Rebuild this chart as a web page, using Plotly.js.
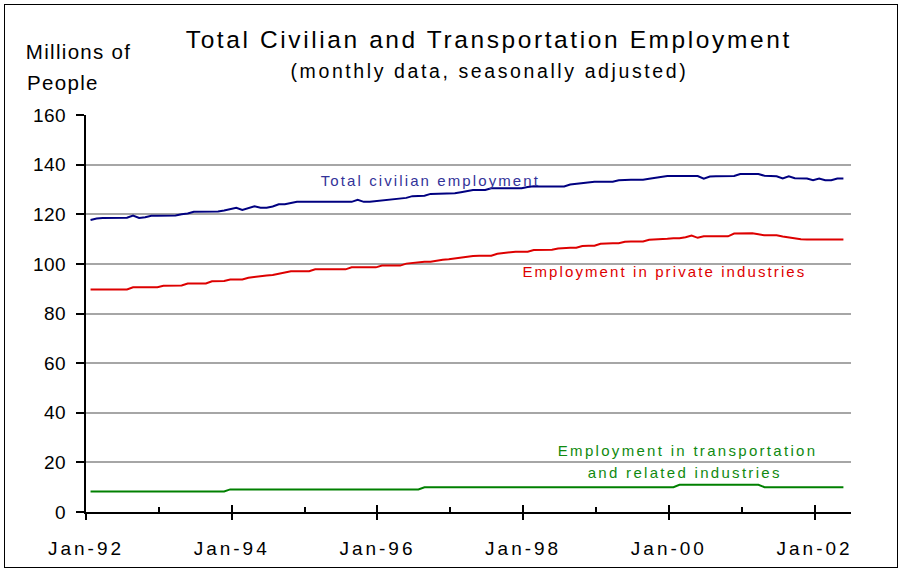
<!DOCTYPE html>
<html>
<head>
<meta charset="utf-8">
<script src="https://cdn.plot.ly/plotly-3.0.1.min.js"></script>
<style>
  html, body { margin: 0; padding: 0; background: #fff; }
  #wrap { position: relative; width: 902px; height: 570px; }
  #chart { width: 902px; height: 570px; }
  #frame { position: absolute; left: 4px; top: 4px; width: 894px; height: 564px;
           box-sizing: border-box; border: 1px solid #000; pointer-events: none; }
</style>
</head>
<body>
<div id="wrap"><div id="chart"></div><div id="frame"></div></div>
<script>
// Monthly series, Jan-1992 through May-2002 (millions of people, seasonally adjusted)
const totalCivilian = [
  117.7,118.3,118.5,118.5,118.5,118.5,118.6,119.5,118.5,118.8,119.4,119.4, // 1992
  119.4,119.4,119.5,120.0,120.3,121.0,121.0,121.0,121.1,121.1,121.5,121.9, // 1993
  122.6,121.7,122.4,123.2,122.6,122.6,123.1,124.0,124.0,124.5,125.0,125.0, // 1994
  125.0,125.0,125.0,125.0,125.0,125.0,125.0,125.0,125.8,125.0,125.0,125.3, // 1995
  125.7,125.8,126.3,126.5,126.6,127.3,127.4,127.5,128.2,128.2,128.2,128.2, // 1996
  128.5,128.9,129.3,129.8,129.8,129.8,130.5,130.5,130.5,130.5,130.5,130.5, // 1997
  131.0,131.3,131.2,131.2,131.2,131.2,131.2,132.0,132.3,132.3,132.8,133.1, // 1998
  133.1,133.1,133.1,133.7,133.9,133.9,133.9,133.9,134.3,134.6,135.2,135.4, // 1999
  135.4,135.4,135.4,135.4,135.4,134.3,135.2,135.3,135.3,135.3,135.4,136.2, // 2000
  136.3,136.3,136.2,135.5,135.4,135.3,134.4,135.3,134.5,134.5,134.4,133.7, // 2001
  134.4,133.7,133.7,134.4,134.4                                            // 2002
];
const privateIndustries = [
  89.7,89.7,89.7,89.7,89.7,89.7,89.7,90.6,90.6,90.6,90.6,90.6,
  91.2,91.3,91.3,91.3,92.1,92.1,92.1,92.1,93.0,93.1,93.1,93.7,
  93.7,93.7,94.4,94.8,95.1,95.3,95.5,96.1,96.5,97.0,97.0,97.0,
  97.0,97.8,97.8,97.8,97.8,97.8,97.8,98.6,98.6,98.6,98.6,98.6,
  99.3,99.3,99.3,99.3,100.1,100.4,100.8,100.9,100.9,101.4,101.7,101.9,
  102.3,102.5,102.9,103.2,103.3,103.3,103.3,104.1,104.4,104.8,104.9,104.9,
  104.9,105.6,105.7,105.7,105.7,106.2,106.5,106.5,106.5,107.2,107.3,107.3,
  108.1,108.3,108.3,108.3,108.9,109.0,109.0,109.0,109.7,109.8,109.7,110.1,
  110.3,110.3,110.7,111.4,110.5,111.1,111.1,111.1,111.1,111.1,112.2,112.3,
  112.3,112.3,111.9,111.5,111.5,111.5,111.0,110.6,110.4,109.9,109.8,109.8,
  109.8,109.8,109.8,109.8,109.8
];
const transportation = [
  8.3,8.3,8.3,8.3,8.3,8.3,8.3,8.3,8.3,8.3,8.3,8.3,
  8.3,8.3,8.3,8.3,8.3,8.3,8.3,8.3,8.3,8.3,8.3,9.1,
  9.1,9.1,9.1,9.1,9.1,9.1,9.1,9.1,9.1,9.1,9.1,9.1,
  9.1,9.1,9.1,9.1,9.1,9.1,9.1,9.1,9.1,9.1,9.1,9.1,
  9.1,9.1,9.1,9.1,9.1,9.1,9.1,10.0,10.0,10.0,10.0,10.0,
  10.0,10.0,10.0,10.0,10.0,10.0,10.0,10.0,10.0,10.0,10.0,10.0,
  10.0,10.0,10.0,10.0,10.0,10.0,10.0,10.0,10.0,10.0,10.0,10.0,
  10.0,10.0,10.0,10.0,10.0,10.0,10.0,10.0,10.0,10.0,10.0,10.0,
  10.0,11.0,11.0,11.0,11.0,11.0,11.0,11.0,11.0,11.0,11.0,11.0,
  11.0,11.0,11.0,10.0,10.0,10.0,10.0,10.0,10.0,10.0,10.0,10.0,
  10.0,10.0,10.0,10.0,10.0
];

// Axis labels: every second January, with unlabeled marks on the years between
const yearTickLabels = ['Jan-92', 'Jan-94', 'Jan-96', 'Jan-98', 'Jan-00', 'Jan-02'];
const yearTickMonths = [0, 24, 48, 72, 96, 120];
const midYearTickMonths = [12, 36, 60, 84, 108];

// Points sit inside their month slot, a little after the month boundary
const SLOT_OFFSET = 0.75;
const monthPos = totalCivilian.map((_, i) => i + SLOT_OFFSET);

const FONT = 'Liberation Sans, Arial, Helvetica, sans-serif';

const traces = [
  { x: monthPos, y: totalCivilian, mode: 'lines', line: { color: '#000080', width: 2 }, hoverinfo: 'skip' },
  { x: monthPos, y: privateIndustries, mode: 'lines', line: { color: '#dd0000', width: 2 }, hoverinfo: 'skip' },
  { x: monthPos, y: transportation, mode: 'lines', line: { color: '#008000', width: 2 }, hoverinfo: 'skip' },
  { x: [], y: [], xaxis: 'x2', mode: 'lines', hoverinfo: 'skip' }
];

// Extra letter spacing per annotation (px), applied after drawing
const annSpacing = [];
function ann(opts, spacing) { annSpacing.push(spacing); return opts; }

const annotations = [
  ann({ xref: 'paper', yref: 'paper', x: 0.527, y: 1.191, xanchor: 'center', yanchor: 'middle',
        text: 'Total Civilian and Transportation Employment', showarrow: false,
        font: { family: FONT, size: 24.5, color: '#000' } }, 2.6),
  ann({ xref: 'paper', yref: 'paper', x: 0.528, y: 1.111, xanchor: 'center', yanchor: 'middle',
        text: '(monthly data, seasonally adjusted)', showarrow: false,
        font: { family: FONT, size: 19.5, color: '#000' } }, 2.6),
  ann({ xref: 'paper', yref: 'paper', x: -0.072, y: 1.161, xanchor: 'left', yanchor: 'middle',
        text: 'Millions of', showarrow: false,
        font: { family: FONT, size: 20.5, color: '#000' } }, 1.3),
  ann({ xref: 'paper', yref: 'paper', x: -0.075, y: 1.083, xanchor: 'left', yanchor: 'middle',
        text: 'People', showarrow: false,
        font: { family: FONT, size: 20.5, color: '#000' } }, 1.3),
  ann({ xref: 'x', yref: 'y', x: 56.8, y: 133.5, xanchor: 'center', yanchor: 'middle',
        text: 'Total civilian employment', showarrow: false,
        font: { family: FONT, size: 15, color: '#333399' } }, 2.1),
  ann({ xref: 'x', yref: 'y', x: 95.3, y: 96.8, xanchor: 'center', yanchor: 'middle',
        text: 'Employment in private industries', showarrow: false,
        font: { family: FONT, size: 15, color: '#dd0000' } }, 2.1),
  ann({ xref: 'x', yref: 'y', x: 99.0, y: 24.6, xanchor: 'center', yanchor: 'middle',
        text: 'Employment in transportation', showarrow: false,
        font: { family: FONT, size: 15, color: '#108a10' } }, 2.3),
  ann({ xref: 'x', yref: 'y', x: 98.6, y: 16.1, xanchor: 'center', yanchor: 'middle',
        text: 'and related industries', showarrow: false,
        font: { family: FONT, size: 15, color: '#108a10' } }, 2.3)
];

const layout = {
  width: 902, height: 570,
  margin: { l: 86, r: 51, t: 115, b: 58 },
  paper_bgcolor: '#fff', plot_bgcolor: '#fff',
  showlegend: false, hovermode: false,
  font: { family: FONT, color: '#000' },
  xaxis: {
    range: [0, 126], tickmode: 'array', tickvals: yearTickMonths, ticktext: yearTickLabels,
    ticks: 'outside', ticklen: 6, tickwidth: 2, tickcolor: '#000',
    showline: true, linecolor: '#000', linewidth: 2,
    showgrid: false, zeroline: false,
    tickfont: { family: FONT, size: 19, color: '#000' }, ticklabelstandoff: 12,
    minor: { tickmode: 'array', tickvals: midYearTickMonths, ticks: 'inside',
             ticklen: 5, tickwidth: 2, tickcolor: '#000', showgrid: false }
  },
  xaxis2: {
    overlaying: 'x', anchor: 'y', range: [0, 126], tickmode: 'array', tickvals: yearTickMonths,
    ticks: 'inside', ticklen: 7, tickwidth: 2, tickcolor: '#000',
    showticklabels: false, showline: false, showgrid: false, zeroline: false
  },
  yaxis: {
    range: [0, 160], tick0: 0, dtick: 20,
    ticks: 'outside', ticklen: 8, tickwidth: 2, tickcolor: '#000',
    showline: true, linecolor: '#000', linewidth: 2,
    gridcolor: '#a6a6a6', gridwidth: 2, zeroline: false,
    tickfont: { family: FONT, size: 19, color: '#000' }, ticklabelstandoff: 6
  },
  annotations: annotations
};

const gd = document.getElementById('chart');
Plotly.newPlot(gd, traces, layout, { staticPlot: true, displayModeBar: false }).then(function () {
  gd.querySelectorAll('.xtick text').forEach(t => { t.style.letterSpacing = '3px'; });
  gd.querySelectorAll('.ytick text').forEach(t => { t.style.letterSpacing = '0.5px'; });
  gd.querySelectorAll('.annotation').forEach(g => {
    const i = +g.getAttribute('data-index');
    const t = g.querySelector('.annotation-text');
    if (t && annSpacing[i] != null) t.style.letterSpacing = annSpacing[i] + 'px';
  });
});
</script>
</body>
</html>
